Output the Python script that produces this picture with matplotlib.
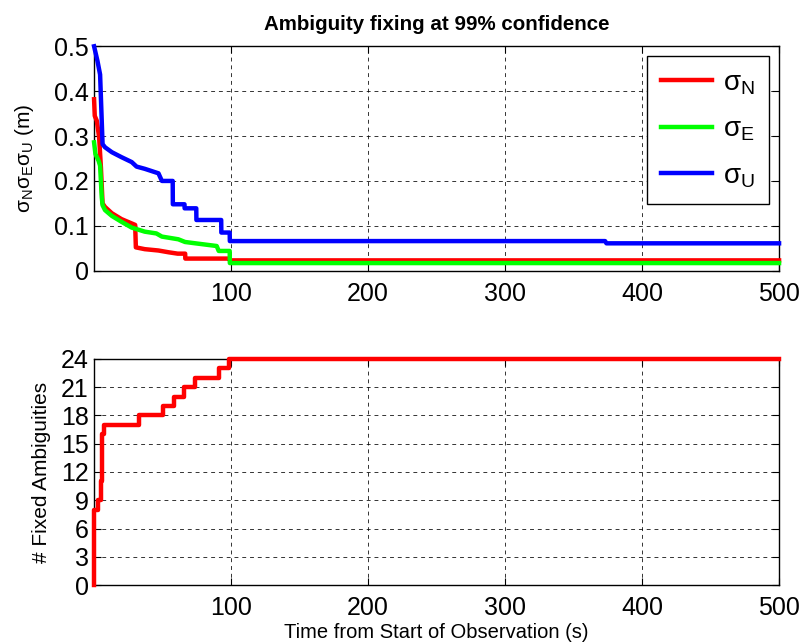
import numpy as np
import matplotlib
matplotlib.use("Agg")
import matplotlib.pyplot as plt

plt.rcParams["font.family"] = ["Liberation Sans", "DejaVu Sans"]
plt.rcParams["mathtext.fontset"] = "custom"
plt.rcParams["mathtext.rm"] = "Liberation Sans"
plt.rcParams["mathtext.it"] = "Liberation Sans"

# sigma curves (time in s, value in m)
t_n = [0, 0.5, 2, 3.7, 5, 6.2, 8, 13, 20, 30, 30.5, 37, 47, 54.5, 61, 66.5, 66.6, 99, 99.1, 500]
sig_n = [0.382, 0.345, 0.334, 0.297, 0.23, 0.15, 0.142, 0.128, 0.115, 0.102, 0.052, 0.048,
         0.045, 0.041, 0.038, 0.038, 0.027, 0.027, 0.023, 0.023]

t_e = [0, 1, 3.3, 4.4, 5.6, 6.2, 8, 13, 20, 27.5, 37, 45.5, 49.5, 61.5, 66.4, 74, 89.5,
       91, 99, 99.1, 500]
sig_e = [0.286, 0.26, 0.245, 0.234, 0.164, 0.146, 0.135, 0.122, 0.109, 0.096, 0.087, 0.083,
         0.076, 0.07, 0.064, 0.061, 0.055, 0.044, 0.044, 0.017, 0.017]

t_u = [0, 2.5, 4.4, 6.2, 8, 13, 20, 27.5, 31, 37, 47, 49.5, 57.4, 57.5, 66, 66.1, 74.6, 74.7,
       92.8, 92.9, 99, 99.1, 373, 374, 500]
sig_u = [0.5, 0.467, 0.437, 0.282, 0.275, 0.264, 0.253, 0.242, 0.232, 0.227, 0.217, 0.2,
         0.2, 0.148, 0.148, 0.139, 0.139, 0.113, 0.113, 0.085, 0.085, 0.066, 0.066, 0.061, 0.061]

# number of fixed ambiguities
t_fix = [0, 0, 2.8, 4.7, 6, 7, 32.7, 50, 58, 66, 74, 91.4, 98.7, 500]
n_fix = [0, 8, 9, 11, 16, 17, 18, 19, 20, 21, 22, 23, 24, 24]

fig = plt.figure(figsize=(8.04, 6.43), dpi=100)
ax1 = fig.add_axes([0.117, 0.579, 0.852, 0.349])
ax2 = fig.add_axes([0.117, 0.090, 0.852, 0.352])

ax1.plot(t_n, sig_n, color="#ff0000", lw=3.2, label=r"$\mathrm{\sigma_N}$", clip_on=False)
ax1.plot(t_e, sig_e, color="#00ff00", lw=3.2, label=r"$\mathrm{\sigma_E}$", clip_on=False)
ax1.plot(t_u, sig_u, color="#0000ff", lw=3.2, label=r"$\mathrm{\sigma_U}$", clip_on=False)
ax1.set_xlim(0, 500)
ax1.set_ylim(0, 0.5)
ax1.set_yticks(np.arange(0, 0.51, 0.1))
ax1.set_yticklabels(["0", "0.1", "0.2", "0.3", "0.4", "0.5"])
ax1.set_ylabel(r"$\mathrm{\sigma_N\sigma_E\sigma_U}$ (m)", fontsize=15, labelpad=13)
ax1.set_title("Ambiguity fixing at 99% confidence", fontsize=14.8, fontweight="bold", pad=12)
leg = ax1.legend(loc="upper right", fontsize=20, handlelength=1.85, labelspacing=0.72,
                 fancybox=False, edgecolor="black", framealpha=1,
                 borderaxespad=0.36, borderpad=0.5, handletextpad=0.4)
leg.get_frame().set_linewidth(1)

ax2.step(t_fix, n_fix, where="post", color="#ff0000", lw=3.2, clip_on=False)
ax2.set_xlim(0, 500)
ax2.set_ylim(0, 24)
ax2.set_yticks(np.arange(0, 25, 3))
ax2.set_ylabel("# Fixed Ambiguities", fontsize=15, labelpad=7)
ax2.set_xlabel("Time from Start of Observation (s)", fontsize=14.5, labelpad=2)

for ax in (ax1, ax2):
    ax.set_xticks([100, 200, 300, 400, 500])
    ax.grid(True, color="black", linestyle=(0, (4, 4)), linewidth=0.7, alpha=0.8)
    ax.tick_params(direction="in", top=True, right=True, length=5, labelsize=18)
    ax.tick_params(axis="x", pad=8)
    ax.tick_params(axis="y", pad=4)
    for s in ax.spines.values():
        s.set_linewidth(1)
        s.set_zorder(1)

fig.savefig("out.png", dpi=100)
